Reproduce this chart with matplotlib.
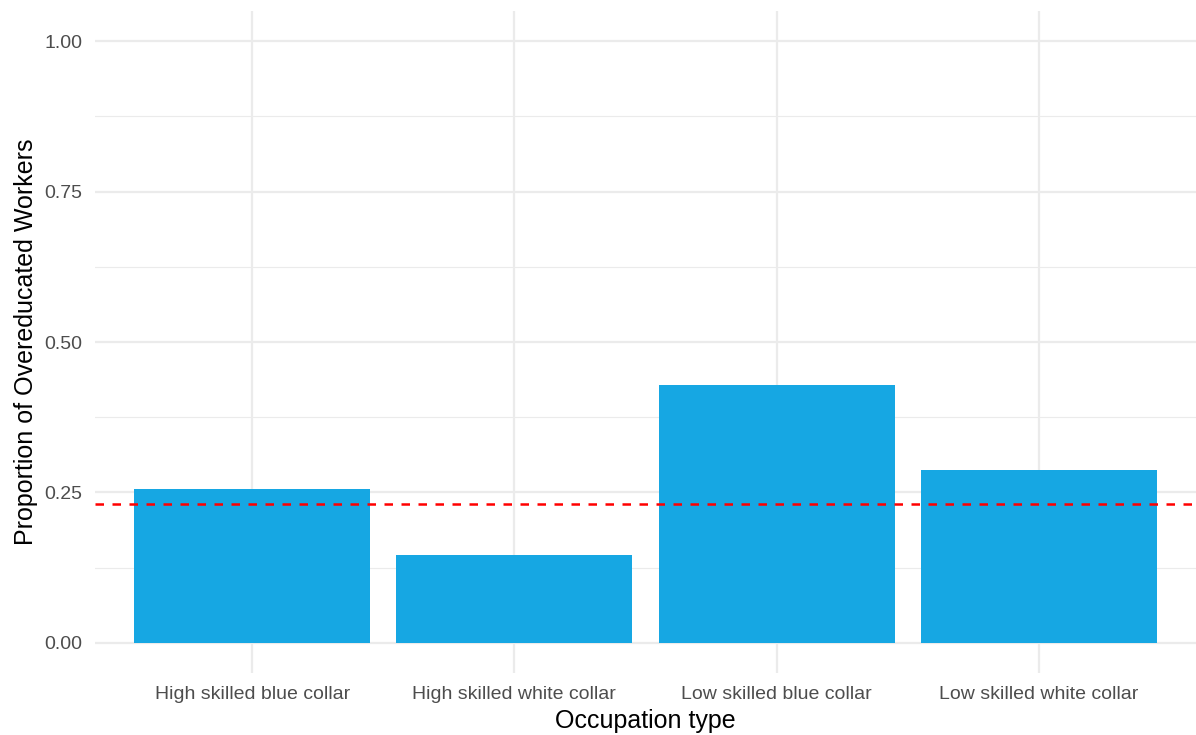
import matplotlib
matplotlib.use("Agg")
from matplotlib import pyplot as plt
from matplotlib.ticker import MultipleLocator

categories = ["High skilled blue collar", "High skilled white collar",
              "Low skilled blue collar", "Low skilled white collar"]
proportions = [0.256, 0.146, 0.428, 0.288]
overall_mean = 0.231
y_ticks = [0.00, 0.25, 0.50, 0.75, 1.00]
y_labels = ["0.00", "0.25", "0.50", "0.75", "1.00"]

plt.rcParams['font.family'] = ['Liberation Sans', 'DejaVu Sans']


def plot(filename):
    fig = plt.figure(figsize=(11.96, 7.35), dpi=100)
    ax = fig.add_axes([95 / 1196, 62 / 735, 1101 / 1196, 662 / 735])

    x = list(range(1, len(categories) + 1))
    ax.bar(x, proportions, width=0.9, color="#16A7E3", zorder=2)
    ax.axhline(overall_mean, color="#FF0000", linewidth=1.8,
               linestyle=(0, (3.4, 3.4)), zorder=3)

    ax.set_xlim(0.4, 4.6)
    ax.set_ylim(-0.05, 1.05)
    ax.set_xticks(x)
    ax.set_xticklabels(categories)
    ax.set_yticks(y_ticks)
    ax.set_yticklabels(y_labels)
    ax.yaxis.set_minor_locator(MultipleLocator(0.125))

    ax.grid(True, which="major", color="#EBEBEB", linewidth=1.6, zorder=0)
    ax.grid(True, which="minor", axis="y", color="#EBEBEB", linewidth=0.8, zorder=0)
    ax.set_axisbelow(True)
    for s in ax.spines.values():
        s.set_visible(False)
    ax.tick_params(which="both", length=0, labelsize=14, labelcolor="#4D4D4D")
    ax.tick_params(axis="x", pad=9.5)
    ax.tick_params(axis="y", pad=9)

    ax.set_xlabel("Occupation type", fontsize=18, color="black", labelpad=4)
    ax.set_ylabel("Proportion of Overeducated Workers", fontsize=18,
                  color="black", labelpad=5)
    fig.savefig(filename, dpi=100)


def main():
    plot("out.png")


if __name__ == "__main__":
    main()
